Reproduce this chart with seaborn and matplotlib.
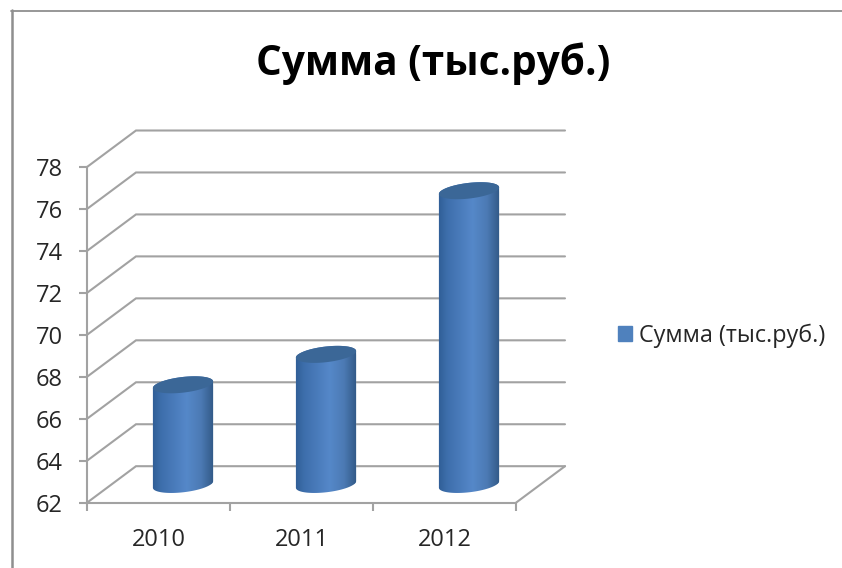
import numpy as np
import pandas as pd
import seaborn as sns
import matplotlib
matplotlib.use("Agg")
import matplotlib.pyplot as plt
from matplotlib.colors import LinearSegmentedColormap
from matplotlib.lines import Line2D
from matplotlib.patches import Patch, PathPatch
from matplotlib.path import Path

years = ["2010", "2011", "2012"]
amounts = [66.75, 68.2, 76.0]
series_name = "Сумма (тыс.руб.)"
y_ticks = [62, 64, 66, 68, 70, 72, 74, 76, 78]

W, H = 842, 568
sns.set_theme(style="white")
plt.rcParams["font.family"] = ["Open Sans", "DejaVu Sans"]

fig = plt.figure(figsize=(W / 100, H / 100), dpi=100, facecolor="white")
L, R, T, B = 87, 516, 167, 502.7
ax = fig.add_axes([L / W, 1 - B / H, (R - L) / W, (B - T) / H])
ax.set_facecolor("none")

df = pd.DataFrame({"year": years, "amount": amounts})
sns.barplot(data=df, x="year", y="amount", color="#4f81bd", width=0.42,
            saturation=1, ax=ax, zorder=3)
ax.set_xlim(-0.5, 2.5)
ax.set_ylim(62, 78)
ax.set_xlabel("")
ax.set_ylabel("")

px_x = (R - L) / 3
px_y = (B - T) / 16
depth_x = 49 / px_x
depth_y = 36.5 / px_y

grid_col = "#a2a2a2"
line_w = 1.5
for v in y_ticks:
    ax.plot([-0.5, -0.5 + depth_x, 2.5 + depth_x], [v, v + depth_y, v + depth_y],
            color=grid_col, lw=line_w, clip_on=False, zorder=1, solid_joinstyle="miter")
ax.plot([2.5, 2.5 + depth_x], [62, 62 + depth_y], color=grid_col, lw=line_w,
        clip_on=False, zorder=1)

for s in ["top", "right"]:
    ax.spines[s].set_visible(False)
for s in ["left", "bottom"]:
    ax.spines[s].set_color(grid_col)
    ax.spines[s].set_linewidth(line_w)
ax.set_yticks(y_ticks)
ax.set_xticks([-0.5, 0.5, 1.5, 2.5], minor=False, labels=["", "", "", ""])
ax.set_xticks([0, 1, 2], minor=True, labels=years)
ax.tick_params(axis="y", which="major", length=5.8, width=line_w, color=grid_col, pad=11.5,
               labelsize=17, labelcolor="#262626", left=True)
ax.tick_params(axis="x", which="major", length=5.8, width=line_w, color=grid_col, bottom=True)
ax.tick_params(axis="x", which="minor", length=0, pad=18.5, labelsize=17, labelcolor="#262626")

cyl_cmap = LinearSegmentedColormap.from_list(
    "cyl", [(0, "#2f5d95"), (0.15, "#3e6fac"), (0.55, "#5588c9"),
            (0.78, "#4c7ab4"), (1, "#2f5682")])
a_px, b_px = 30.3, 7.8
tilt = np.deg2rad(6.7)


def ellipse(cx, cy, t):
    ex = a_px * np.cos(t) * np.cos(tilt) - b_px * np.sin(t) * np.sin(tilt)
    ey = a_px * np.cos(t) * np.sin(tilt) + b_px * np.sin(t) * np.cos(tilt)
    return cx + ex / px_x, cy + ey / px_y


grad = np.linspace(0, 1, 256).reshape(1, -1)
for bar, value in zip(ax.containers[0], amounts):
    x0, w = bar.get_x() + depth_x / 2, bar.get_width()
    cx = x0 + w / 2
    base, top = 62 + depth_y / 2, value + depth_y / 2
    bx, by = ellipse(cx, base, np.linspace(np.pi, 2 * np.pi, 60))
    tx, ty = ellipse(cx, top, np.linspace(0, np.pi, 60))
    outline = np.column_stack([np.r_[bx, tx, bx[0]], np.r_[by, ty, by[0]]])
    clip = PathPatch(Path(outline, closed=True), transform=ax.transData,
                     facecolor="none", edgecolor="none")
    ax.add_patch(clip)
    bar.set_x(x0)
    bar.set_y(base)
    bar.set_height(value - 62)
    bar.set_clip_path(clip)
    im = ax.imshow(grad, extent=(x0 - 0.01, x0 + w + 0.01, 62, top + 1), aspect="auto",
                   cmap=cyl_cmap, zorder=3.5, interpolation="bilinear")
    im.set_clip_path(clip)
    ex, ey = ellipse(cx, top, np.linspace(0, 2 * np.pi, 120))
    ax.fill(ex, ey, color="#3b6797", lw=0, zorder=4, clip_on=False)
ax.set_xlim(-0.5, 2.5)
ax.set_ylim(62, 78)

fig.text(433 / W, 1 - 64 / H, series_name, ha="center", va="center",
         fontsize=29.2, fontweight="bold", color="black")

ax.legend(handles=[Patch(color="#4f81bd", label=series_name)],
          loc="center left", bbox_to_anchor=(613 / W, 1 - 335.5 / H),
          bbox_transform=fig.transFigure, frameon=False, fontsize=16.8,
          labelcolor="#262626", handlelength=0.62, handleheight=0.62,
          handletextpad=0.3, borderpad=0.2, borderaxespad=0)

frame_col = "#8f8f8f"
fig.add_artist(Line2D([12 / W, 12 / W], [0, 1 - 10 / H], color=frame_col, lw=1.8))
fig.add_artist(Line2D([11 / W, 1], [1 - 10.5 / H, 1 - 10.5 / H], color=frame_col, lw=1.3))

fig.savefig("out.png", dpi=100, facecolor="white")
